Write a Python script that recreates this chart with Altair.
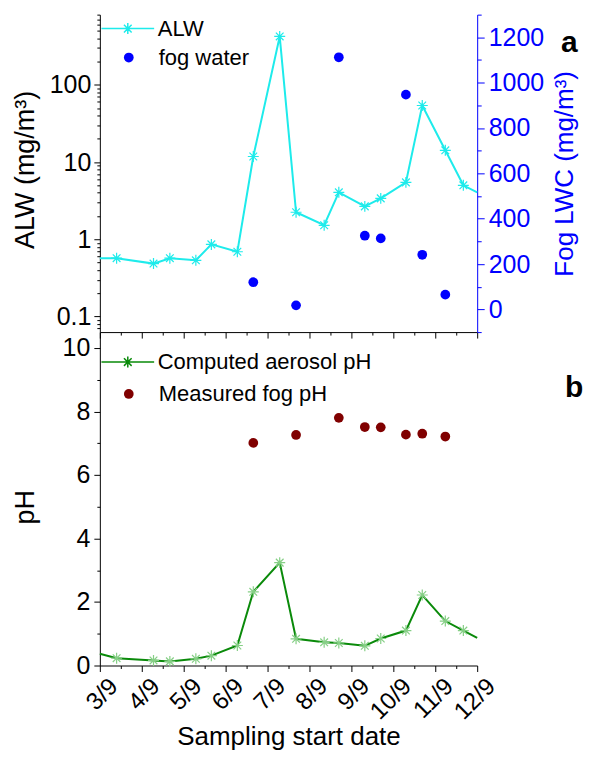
import json
import altair as alt
import pandas as pd

# ---------------- data ----------------
days = [3.0, 3.40, 4.28, 4.67, 5.29, 5.66, 6.28, 6.66, 7.29, 7.68,
        8.35, 8.70, 9.32, 9.70, 10.30, 10.69, 11.24, 11.67, 12.0]
alw = [0.57, 0.57, 0.485, 0.57, 0.535, 0.86, 0.69, 11.8, 423, 2.24,
       1.52, 4.06, 2.67, 3.39, 5.46, 54, 14.2, 5.0, 4.06]
aerosol_ph = [0.37, 0.23, 0.16, 0.13, 0.21, 0.31, 0.63, 2.32, 3.24, 0.84,
              0.73, 0.71, 0.62, 0.85, 1.10, 2.22, 1.40, 1.10, 0.87]
fog_days = [6.66, 7.68, 8.70, 9.32, 9.70, 10.30, 10.69, 11.24]
fog_lwc = [120, 18, 1112, 325, 313, 947, 241, 65]
fog_ph = [7.01, 7.26, 7.80, 7.51, 7.50, 7.27, 7.30, 7.21]
month_labels = ["3/9", "4/9", "5/9", "6/9", "7/9", "8/9", "9/9", "10/9", "11/9", "12/9"]
log_labels = ["0.1", "1", "10", "100"]
panel_labels = ["a", "b"]

FONT = "Liberation Sans"
CYAN = "#1EEBEB"
BLUE = "#0000FF"
GREEN = "#0A8A0A"
LIGHTGREEN = "#86CF86"
DARKRED = "#800000"
STAR = "M0,-1L0,1M-1,0L1,0M-0.7,-0.7L0.7,0.7M-0.7,0.7L0.7,-0.7"
LEG = "M-2.4,0L2.4,0M0,-0.5L0,0.5M-0.5,0L0.5,0M-0.35,-0.35L0.35,0.35M-0.35,0.35L0.35,-0.35"

alw_df = pd.DataFrame({"day": days, "ALW": alw, "series": ["ALW"] * len(days)})
ph_df = pd.DataFrame({"day": days, "pH": aerosol_ph,
                      "series": ["Computed aerosol pH"] * len(days)})
fog_df = pd.DataFrame({"day": fog_days, "LWC": fog_lwc, "pH": fog_ph,
                       "s1": ["fog water"] * len(fog_days),
                       "s2": ["Measured fog pH"] * len(fog_days)})

x_ticks = [3 + 0.5 * i for i in range(19)]
log_ticks = []
for e in [0.01, 0.1, 1, 10, 100]:
    for m in range(1, 10):
        v = round(m * e, 4)
        if 0.063 <= v <= 810:
            log_ticks.append(v)
xscale = alt.Scale(domain=[3, 12], nice=False, zero=False)


def cond(test, yes, no):
    return {"condition": {"test": test, "value": yes}, "value": no}


X_MAJOR = "datum.value % 1 == 0"
LOG_MAJOR = " || ".join(f"datum.value == {s}" for s in log_labels)
LWC_MAJOR = "datum.value % 200 == 0 && datum.value >= 0 && datum.value <= 1200"
PH_MAJOR = "datum.value % 2 == 0"

x_label_expr = f"{X_MAJOR} ? " + json.dumps(month_labels) + "[datum.value - 3] : ''"

W = 378
H_TOP = 318
H_BOT = 334
LBL = 25

# ---------------- top panel ----------------
x_top = alt.X("day:Q", scale=xscale,
              axis=alt.Axis(values=x_ticks, labels=False, tickSize=cond(X_MAJOR, 6, 3), title=None))
y_alw = alt.Y("ALW:Q",
              scale=alt.Scale(type="log", domain=[0.063, 810], nice=False),
              axis=alt.Axis(values=log_ticks, tickSize=cond(LOG_MAJOR, 6, 3), labelPadding=3,
                            labelExpr=f"({LOG_MAJOR}) ? datum.value + '' : ''",
                            labelFontSize=cond(LOG_MAJOR, LBL, 0),
                            labelOverlap=False, labelFlush=False,
                            title="ALW (mg/m³)", titleX=-60, titleY=155))

alw_line = alt.Chart(alw_df).mark_line(strokeWidth=2).encode(
    x=x_top, y=y_alw,
    color=alt.Color("series:N", scale=alt.Scale(domain=["ALW"], range=[CYAN]),
                    legend=alt.Legend(title=None, orient="none", legendX=16, legendY=2,
                                      symbolType=LEG, symbolSize=484, symbolStrokeWidth=1.5,
                                      labelFont=FONT, labelFontSize=22, labelOffset=18,
                                      labelLimit=400, labelColor="black", padding=0)))
alw_star = alt.Chart(alw_df).transform_filter("datum.day > 3 && datum.day < 12").mark_point(
    shape=STAR, size=121, filled=False, strokeWidth=1.2, color=CYAN, opacity=1
).encode(x=x_top, y=y_alw)

fog_pts = alt.Chart(fog_df).mark_point(shape="circle", filled=True, size=95, opacity=1).encode(
    x=x_top,
    y=alt.Y("LWC:Q", scale=alt.Scale(domain=[-100, 1300], nice=False, zero=False),
            axis=alt.Axis(orient="right", values=list(range(-100, 1301, 100)), format="d",
                          labelExpr=f"({LWC_MAJOR}) ? datum.label : ''",
                          labelFontSize=cond(LWC_MAJOR, LBL, 0),
                          labelFlush=False, labelOverlap=False,
                          tickSize=cond(LWC_MAJOR, 7, 4), labelPadding=4,
                          domainColor=BLUE, tickColor=BLUE, labelColor=BLUE, titleColor=BLUE,
                          title="Fog LWC (mg/m³)", titleAngle=270, titleBaseline="top",
                          titleFontSize=26, titlePadding=8)),
    color=alt.Color("s1:N", scale=alt.Scale(domain=["fog water"], range=[BLUE]),
                    legend=alt.Legend(title=None, orient="none", legendX=18, legendY=32,
                                      symbolType="circle", symbolSize=95, symbolStrokeWidth=0,
                                      labelFont=FONT, labelFontSize=22, labelOffset=19,
                                      labelLimit=400, labelColor="black", padding=0)))

label_a = alt.Chart(pd.DataFrame({"t": [panel_labels[0]]})).mark_text(
    font=FONT, fontSize=30, fontWeight="bold", align="left", baseline="alphabetic", color="black"
).encode(text="t:N", x=alt.value(462), y=alt.value(37))

top = alt.layer(alt.layer(alw_line, alw_star), fog_pts, label_a).resolve_scale(
    y="independent", color="independent").properties(width=W, height=H_TOP)

# ---------------- bottom panel ----------------
x_bot = alt.X("day:Q", scale=xscale,
              axis=alt.Axis(values=x_ticks, labelExpr=x_label_expr, labelAngle=-45,
                            labelFontSize=cond(X_MAJOR, 24, 0),
                            labelAlign="right", labelBaseline="middle", labelOffset=14,
                            labelPadding=11, labelFlush=False, labelOverlap=False,
                            tickSize=cond(X_MAJOR, 6, 3),
                            title="Sampling start date", titleFontSize=26, titlePadding=0))
y_ph = alt.Y("pH:Q", scale=alt.Scale(domain=[0, 10.5], nice=False, zero=False),
             axis=alt.Axis(values=list(range(0, 11)), tickSize=cond(PH_MAJOR, 6, 3), labelPadding=4,
                           labelExpr=f"({PH_MAJOR}) ? datum.label : ''",
                           labelFontSize=cond(PH_MAJOR, LBL, 0),
                           labelFlush=False, labelOverlap=False,
                           title="pH", titleX=-60, titleY=175))

ph_line = alt.Chart(ph_df).mark_line(strokeWidth=2).encode(
    x=x_bot, y=y_ph,
    color=alt.Color("series:N", scale=alt.Scale(domain=["Computed aerosol pH"], range=[GREEN]),
                    legend=alt.Legend(title=None, orient="none", legendX=16, legendY=18,
                                      symbolType=LEG, symbolSize=484, symbolStrokeWidth=1.5,
                                      labelFont=FONT, labelFontSize=22, labelOffset=18,
                                      labelLimit=400, labelColor="black", padding=0)))
ph_star = alt.Chart(ph_df).transform_filter("datum.day > 3 && datum.day < 12").mark_point(
    shape=STAR, size=121, filled=False, strokeWidth=1.2, color=LIGHTGREEN, opacity=1
).encode(x=x_bot, y=y_ph)
fogph_pts = alt.Chart(fog_df).mark_point(shape="circle", filled=True, size=95, opacity=1).encode(
    x=x_bot, y=y_ph,
    color=alt.Color("s2:N", scale=alt.Scale(domain=["Measured fog pH"], range=[DARKRED]),
                    legend=alt.Legend(title=None, orient="none", legendX=18, legendY=51,
                                      symbolType="circle", symbolSize=95, symbolStrokeWidth=0,
                                      labelFont=FONT, labelFontSize=22, labelOffset=19,
                                      labelLimit=400, labelColor="black", padding=0)))
label_b = alt.Chart(pd.DataFrame({"t": [panel_labels[1]]})).mark_text(
    font=FONT, fontSize=30, fontWeight="bold", align="left", baseline="alphabetic", color="black"
).encode(text="t:N", x=alt.value(466), y=alt.value(65))

bottom = alt.layer(ph_line, ph_star, fogph_pts, label_b).resolve_scale(
    color="independent").properties(width=W, height=H_BOT)

chart = alt.vconcat(top, bottom, spacing=0, bounds="flush").properties(
    padding={"left": 3, "top": 5, "right": 0, "bottom": 0}
).configure_axis(
    labelFont=FONT, titleFont=FONT, labelFontSize=LBL, titleFontSize=27,
    titleFontWeight="normal", domainColor="black", tickColor="black",
    labelColor="black", titleColor="black", grid=False, domainWidth=1, tickWidth=1
).configure_view(stroke=None)

chart.save("out.html", embed_options={"renderer": "svg", "actions": False})
